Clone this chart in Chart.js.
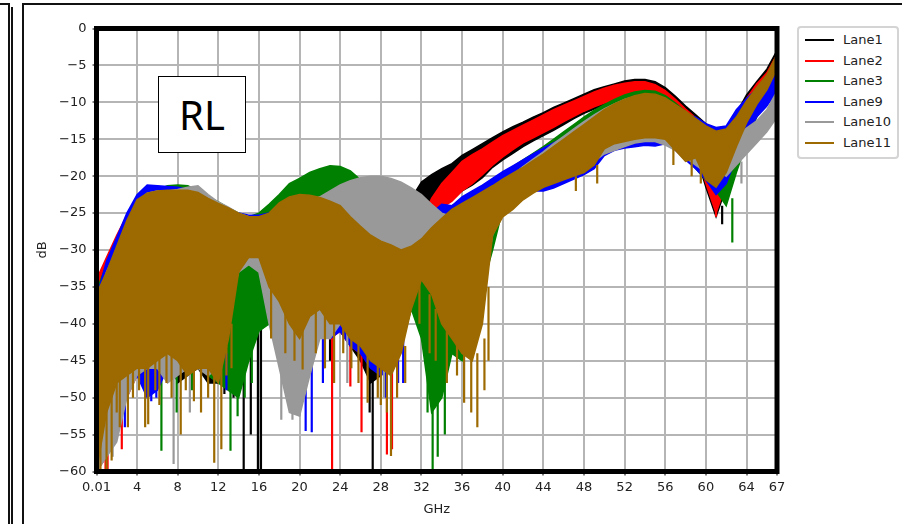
<!DOCTYPE html>
<html>
<head>
<meta charset="utf-8">
<script src="https://cdn.jsdelivr.net/npm/chart.js@4.4.1/dist/chart.umd.min.js"></script>
<style>
  html, body { margin: 0; padding: 0; background: #fff; }
  #wrap { position: relative; width: 902px; height: 524px; overflow: hidden; font-family: "DejaVu Sans", sans-serif; }
  #chart { position: absolute; left: 0; top: 0; }
  .rule { position: absolute; background: #111; }
  #rl { position: absolute; left: 158px; top: 76px; width: 86px; height: 75px; border: 1.5px solid #000;
        background: #fff; font: 40px "Noto Sans", sans-serif; text-align: center; line-height: 75px; color: #000; }
  #legend { position: absolute; left: 797px; top: 26px; width: 98px; height: 129px; border: 2px solid #d4d4d4; border-radius: 4px; background: #fff; }
  .item { position: absolute; left: 0; height: 20px; width: 98px; }
  .item i { position: absolute; left: 6px; top: 9px; width: 29px; height: 2px; }
  .item span { position: absolute; left: 44px; top: 2px; font-size: 13px; color: #222; }
</style>
</head>
<body>
<div id="wrap">
  <canvas id="chart" width="902" height="524"></canvas>
  <div class="rule" style="left:0;top:3px;width:9px;height:1.5px"></div>
  <div class="rule" style="left:8px;top:3px;width:1.5px;height:521px"></div>
  <div class="rule" style="left:11px;top:7px;width:2px;height:517px"></div>
  <div class="rule" style="left:22px;top:3px;width:1.5px;height:521px"></div>
  <div class="rule" style="left:22px;top:3px;width:880px;height:1.5px"></div>
  <div id="rl">RL</div>
  <div id="legend"></div>
</div>
<script>
// frequency grid (GHz)
const freqs = [0.01, 1, 2, 3, 4, 5, 6, 7, 8, 9, 10, 11, 12, 13, 14, 15, 16, 17, 18, 19, 20,
  21, 22, 23, 24, 25, 26, 27, 28, 29, 30, 31, 32, 33, 34, 35, 36, 37, 38, 39, 40,
  41, 42, 43, 44, 45, 46, 47, 48, 49, 50, 51, 52, 53, 54, 55, 56, 57, 58, 59, 60,
  61, 62, 63, 64, 65, 66, 67];

const xTicks = [0.01, 4, 8, 12, 16, 20, 24, 28, 32, 36, 40, 44, 48, 52, 56, 60, 64, 67];

// upper / lower edge of each noisy trace (dB), read per GHz; dips = [GHz, from, to]
const lane1Hi = [-36, -33, -29.5, -26, -23.5, -22.5, -22.3, -22.3, -22.3, -22.5, -23, -23.5, -24, -24.8, -25.5, -26, -26, -25.5, -24.5, -23.5, -23,
  -23, -23.5, -24, -25, -26, -27, -28, -28.5, -28, -26, -23, -20.8, -19.8, -19, -18.3, -17.2, -16.4, -15.6, -14.8, -14,
  -13.3, -12.7, -12, -11.4, -10.7, -10.1, -9.5, -8.9, -8.3, -7.9, -7.5, -7.1, -6.9, -6.9, -7.2, -8, -9.2, -10.5, -11.7, -12.9,
  -14, -13.8, -11.5, -9, -7.2, -5.5, -3];
const lane1Lo = [-60, -57, -50, -50, -46, -47, -46, -44, -48, -47, -46, -48, -48, -45, -36, -35, -39, -39.5, -37, -42, -42,
  -40, -39, -41, -41, -43, -45, -48, -47, -44, -40, -33, -24, -23.8, -23.4, -22.8, -22, -21.2, -20.2, -18.8, -17.8,
  -16.9, -16, -15.2, -14.5, -13.8, -13, -12.2, -11.5, -10.9, -10.4, -10.1, -9.9, -9.8, -9.9, -10.3, -11.3, -12.8, -14.5, -17, -21.5,
  -25.5, -21.5, -15.8, -11.8, -9.3, -7.3, -4.8];
const lane1Dips = [[12.6, -45, -49.5], [13.5, -44, -50], [14.5, -44, -60], [15.2, -44, -55], [15.9, -40, -60], [16.2, -40, -60],
  [16.6, -35, -40], [17.2, -35, -39.5], [23.0, -38, -45], [26.9, -46, -52], [27.2, -46, -60], [61.6, -24, -26.5]];

const lane2Hi = [-34, -31, -28, -25.3, -22.7, -21.5, -21.8, -22, -22, -22.3, -22.8, -23.5, -24, -24.8, -25.5, -26, -26, -25.5, -24.5, -23.5, -23,
  -23, -23.5, -24, -25, -26, -27, -28, -29, -29.5, -29.5, -28.5, -26, -23, -21, -19.5, -18, -17.1, -16.3, -15.4, -14.5,
  -13.8, -13.1, -12.4, -11.7, -11, -10.4, -9.8, -9.2, -8.6, -8.1, -7.7, -7.4, -7.2, -7.2, -7.6, -8.4, -9.6, -10.9, -12.1, -13.3,
  -14.4, -14.2, -12, -9.5, -7.5, -6, -3.5];
const lane2Lo = [-60, -58, -52, -50, -47, -46, -46, -45, -46, -46, -46, -47, -47, -40, -34, -33, -34, -36, -40, -42, -42,
  -40, -40, -42, -41, -43, -44, -45, -47, -46, -42, -38, -32, -25.5, -24.3, -23.4, -22, -21, -19.8, -18.5, -17.4,
  -16.4, -15.5, -14.8, -14.1, -13.4, -12.6, -11.9, -11.2, -10.6, -10.1, -9.8, -9.6, -9.5, -9.6, -10, -11, -12.5, -14, -16.5, -21,
  -25, -21, -15.5, -11.5, -9, -7, -4.5];
const lane2Dips = [[0.9, -40, -60], [1.1, -40, -60], [2.5, -48, -57], [22.4, -40, -46], [23.2, -40, -60], [25.0, -38, -48.5],
  [26.1, -41, -54.7], [28.6, -48, -57.7], [29.1, -44, -57], [61.0, -22, -25.5]];

const lane3Hi = [-35.5, -32, -29, -26, -23.3, -22.3, -21.8, -21.3, -21.2, -21.3, -22, -22.8, -23.5, -24.3, -25, -25.5, -25, -23.8, -22.5, -21, -20.3,
  -19.5, -19, -18.6, -18.7, -19.3, -20.5, -22, -24, -26, -28, -29, -28, -26.5, -25, -24, -23.2, -22.3, -21.4, -20.5, -19.6,
  -18.7, -17.8, -16.9, -16, -15, -14, -13, -12, -11.1, -10.3, -9.6, -9, -8.6, -8.4, -8.5, -9.1, -10.1, -11.3, -12.4, -13.4,
  -14.4, -15, -14, -11, -8.5, -6.5, -4];
const lane3Lo = [-60, -55, -50, -49, -47, -45, -48, -46, -45, -46, -46, -47, -48, -49, -50, -45, -41, -40, -43, -38, -40,
  -38, -37.5, -39.5, -39.5, -41.5, -42.5, -44.5, -45.5, -46, -43, -38, -42, -52, -50, -44, -45, -40, -35, -30, -24.5,
  -23.2, -22.2, -21.4, -20.7, -20.1, -19.5, -19, -18.5, -18, -17, -16, -15.5, -15, -14.6, -14.6, -15, -16, -17.5, -19, -20.5,
  -22, -24, -19.5, -15.5, -12, -9.5, -6.5];
const lane3Dips = [[3.0, -45, -49], [6.4, -45, -57.2], [7.9, -46, -52], [9.4, -46, -49], [13.2, -45, -57.2], [13.9, -45, -52.5],
  [14.6, -44, -50], [15.3, -40, -48], [32.6, -40, -52], [33.1, -45, -60], [33.6, -48, -58], [34.3, -45, -55], [62.6, -23, -29]];

const lane9Hi = [-36.5, -31.5, -28.3, -25, -22.5, -21.2, -21.3, -21.4, -21.5, -21.8, -22.5, -23, -23.7, -24.5, -25, -25.3, -25.3, -25, -24, -23.5, -23,
  -23, -23.5, -24.5, -25.5, -26.5, -27.5, -28.5, -29.5, -30, -30, -28.5, -26.5, -25, -23.8, -24, -22.8, -22, -21.2, -20.3, -19.4,
  -18.6, -17.8, -17, -16.2, -15.5, -14.8, -14, -13.3, -12.7, -12, -11.5, -11, -10.7, -10.5, -10.6, -10.9, -11.3, -11.6, -12, -12.9,
  -13.4, -13.2, -11, -9.5, -8.2, -6.8, -5];
const lane9Lo = [-60, -55, -52, -49, -47, -50, -49, -46, -44, -46, -46, -46, -47, -36, -31.5, -31, -31.5, -38.5, -40, -44, -44,
  -41, -40, -42, -41, -43, -44, -46, -47, -46, -43, -36, -30, -27.5, -25.8, -25.3, -24.8, -24.2, -23.6, -23, -22.4,
  -22, -22, -22, -22, -21.6, -21, -20.4, -19.8, -19, -17.2, -16.5, -16.2, -16, -15.8, -15.9, -15.6, -16.5, -17.8, -19, -20.5,
  -22.5, -21, -17.5, -14.5, -12, -10.5, -8.5];
const lane9Dips = [[1.8, -50, -56], [2.8, -45, -54], [4.4, -40, -48], [5.4, -44, -50.5], [5.9, -44, -50], [6.8, -44, -46.5],
  [8.4, -42, -44], [12.8, -44, -49], [17.6, -36, -39], [19.9, -42, -52], [20.6, -45, -54.5], [21.2, -40, -54.7], [22.3, -42, -48],
  [28.5, -42, -50], [29.7, -42, -48], [30.2, -40, -48]];

const lane10Hi = [-37, -33, -30, -26.5, -23.5, -22.3, -22, -22, -21.8, -21.5, -21.3, -22.5, -23.5, -24.2, -25, -25.5, -25.8, -25.5, -24.5, -24, -23.5,
  -23.2, -22.8, -22, -21.2, -20.6, -20.2, -20, -20, -20.3, -20.8, -21.6, -22.5, -23.8, -25, -25.5, -25, -24, -23, -22, -21,
  -19.8, -18.7, -17.7, -16.7, -15.6, -14.6, -13.6, -12.6, -11.7, -10.9, -10.2, -9.6, -9.2, -9, -9.1, -9.6, -10.6, -11.8, -12.9, -13.9,
  -14.7, -15.5, -14.8, -13.5, -12.5, -11, -8.5];
const lane10Lo = [-60, -58, -56, -50, -47, -46, -46, -48, -47, -46, -46, -47, -46, -38, -33, -32, -33, -40, -46, -52, -52.5,
  -47, -42, -42, -40, -38, -36, -38, -45, -47, -40, -34, -31, -30, -34, -38, -40, -38, -36, -28, -25,
  -24, -23, -22, -21.2, -20.5, -19.8, -19.2, -18.7, -18, -17, -16.5, -16, -15.5, -15.3, -15.3, -15.8, -16.5, -17.5, -18.5, -19.5,
  -19, -20, -18.5, -17, -15.5, -14, -12];
const lane10Dips = [[1.6, -45, -58], [2.1, -46, -55], [7.6, -45, -59], [9.2, -45, -52], [10.3, -44, -47], [18.2, -40, -53],
  [19.3, -45, -53], [20.0, -45, -52.5], [24.7, -40, -48], [28.3, -44, -50], [63.5, -18, -21]];

const lane11Hi = [-36, -33, -29.5, -26, -23.2, -22.3, -22, -21.9, -21.9, -21.9, -22.2, -23, -23.7, -24.3, -25, -25.5, -25.5, -25, -23.6, -22.8, -22.5,
  -22.6, -22.9, -23.4, -24, -25.5, -26.8, -28, -28.8, -29.3, -30, -29.5, -28.5, -27, -25.7, -24.5, -23.7, -22.9, -22.1, -21.3, -20.4,
  -19.6, -18.8, -17.9, -17, -16, -15, -14, -13, -12, -11, -10.2, -9.6, -9.1, -8.8, -8.9, -9.4, -10.3, -11.2, -12.2, -13.2,
  -13.9, -13.6, -12, -9.8, -8, -6.3, -3.5];
const lane11Lo = [-60, -52, -48, -47, -46, -46, -45, -44, -45, -47, -46, -46, -48, -42, -33, -31, -31, -35, -37, -40, -42,
  -39, -38, -40, -40, -42, -43, -45, -46, -47, -44, -38, -34, -36, -40, -42, -44, -45, -40, -28, -25.5,
  -24.5, -23.2, -22.3, -21.5, -21, -20.5, -20, -19.5, -18.5, -16.3, -15.6, -15.3, -15, -14.8, -14.8, -15, -16.5, -18, -17.5, -20.5,
  -21.5, -19.5, -16, -12.8, -10.3, -8.3, -5.5];
const lane11Dips = [[0.4, -45, -60], [1.0, -48, -60], [1.5, -48, -58.5], [2.0, -46, -52], [2.3, -46, -54], [3.1, -46, -54],
  [3.6, -46, -50], [4.2, -45, -49], [4.8, -45, -54], [5.1, -45, -53.6], [5.8, -44, -49], [6.2, -44, -51], [6.9, -43, -48],
  [7.4, -42, -50], [8.3, -44, -55], [8.8, -44, -49], [9.6, -45, -50.5], [10.3, -45, -52], [11.0, -45, -50], [11.6, -45, -58.8],
  [12.3, -45, -57], [12.8, -43, -47], [13.3, -40, -46], [17.2, -34, -42], [18.6, -36, -44], [19.5, -38, -45], [20.3, -40, -46.2],
  [21.6, -38, -44], [22.5, -38, -46], [23.4, -39, -48], [24.3, -39, -44], [25.1, -41, -46], [25.8, -42, -48], [26.7, -43, -50.7],
  [27.7, -44, -50], [28.0, -45, -51], [28.6, -45, -52], [29.0, -46, -57.9], [29.6, -45, -50], [30.4, -43, -48],
  [31.8, -34, -40], [32.8, -36, -44], [33.4, -38, -45],
  [34.5, -40, -48], [35.5, -42, -47], [36.2, -43, -50.7], [36.9, -44, -52], [37.5, -44, -54], [38.2, -42, -49], [38.6, -35, -45],
  [47.2, -20, -22], [49.3, -18.5, -21], [56.8, -16, -18.5], [58.6, -17, -20], [59.5, -17, -21]];

const lanes = [
  { name: 'Lane1', color: '#000000', hi: lane1Hi, lo: lane1Lo, dips: lane1Dips },
  { name: 'Lane2', color: '#ff0000', hi: lane2Hi, lo: lane2Lo, dips: lane2Dips },
  { name: 'Lane3', color: '#008000', hi: lane3Hi, lo: lane3Lo, dips: lane3Dips },
  { name: 'Lane9', color: '#0000ff', hi: lane9Hi, lo: lane9Lo, dips: lane9Dips },
  { name: 'Lane10', color: '#999999', hi: lane10Hi, lo: lane10Lo, dips: lane10Dips },
  { name: 'Lane11', color: '#9c6a00', hi: lane11Hi, lo: lane11Lo, dips: lane11Dips },
];

// first dataset is drawn on top, so the last lane goes first
const datasets = [];
lanes.slice().reverse().forEach(l => {
  datasets.push({
    label: l.name,
    data: freqs.map((f, i) => ({ x: f, y: l.hi[i] })),
    borderColor: l.color, backgroundColor: l.color,
    borderWidth: 1.5, pointRadius: 0, fill: '+1',
  });
  datasets.push({
    label: l.name + ' low',
    data: freqs.map((f, i) => ({ x: f, y: l.lo[i] })),
    borderColor: l.color, backgroundColor: l.color,
    borderWidth: 1.5, pointRadius: 0, fill: false,
  });
  datasets.push({
    label: l.name + ' dips',
    data: l.dips.flatMap(([f, a, b]) => [{ x: f, y: a }, { x: f, y: b }, { x: f, y: null }]),
    borderColor: l.color, borderWidth: 2.2, pointRadius: 0, fill: false, spanGaps: false,
  });
});

// legend in lane order
const legend = document.getElementById('legend');
lanes.forEach((l, i) => {
  const row = document.createElement('div');
  row.className = 'item';
  row.style.top = (2 + i * 20.5) + 'px';
  row.innerHTML = `<i style="background:${l.color}"></i><span>${l.name}</span>`;
  legend.appendChild(row);
});

const spines = {
  id: 'spines',
  afterDraw(chart) {
    const { ctx, chartArea: a } = chart;
    ctx.save();
    ctx.lineWidth = 5;
    ctx.strokeStyle = '#000';
    ctx.strokeRect(a.left, a.top, a.right - a.left, a.bottom - a.top);
    ctx.restore();
  },
};

Chart.defaults.font.family = '"DejaVu Sans", sans-serif';
Chart.defaults.font.size = 13;
Chart.defaults.color = '#222';

const gridStyle = { color: '#b5b5b5', lineWidth: 2, tickColor: '#000', tickLength: 4, tickWidth: 1 };

new Chart(document.getElementById('chart'), {
  type: 'line',
  data: { datasets },
  options: {
    responsive: false,
    animation: false,
    events: [],
    layout: { padding: { left: 0, right: 125, top: 28.5, bottom: 0 } },
    elements: { line: { tension: 0 } },
    plugins: { legend: { display: false }, tooltip: { enabled: false } },
    scales: {
      x: {
        type: 'linear', min: 0.01, max: 67,
        afterFit: s => { s.height = 52.5; },
        afterBuildTicks: s => { s.ticks = xTicks.map(v => ({ value: v })); },
        ticks: { autoSkip: false, maxRotation: 0, padding: 4, callback: v => String(v) },
        grid: gridStyle,
        border: { display: false },
        title: { display: true, text: 'GHz', padding: { bottom: 7 } },
      },
      y: {
        min: -60, max: 0,
        afterFit: s => { s.width = 96.5; },
        ticks: { stepSize: 5, padding: 6, callback: v => v < 0 ? '\u2212' + (-v) : String(v) },
        grid: gridStyle,
        border: { display: false },
        title: { display: true, text: 'dB', padding: { top: 35 } },
      },
    },
  },
  plugins: [spines],
});
</script>
</body>
</html>
